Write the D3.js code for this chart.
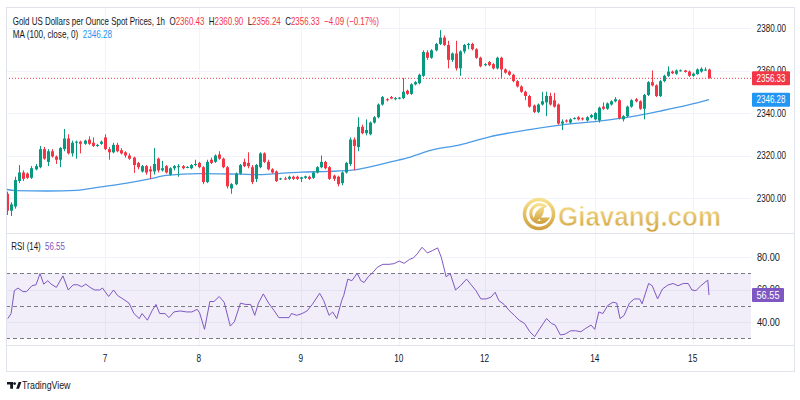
<!DOCTYPE html>
<html>
<head>
<meta charset="utf-8">
<script src="https://cdn.jsdelivr.net/npm/d3@7/dist/d3.min.js"></script>
<style>
  body { margin: 0; background: #fff; }
  svg { display: block; }
  text { font-family: "Liberation Sans", Arial, sans-serif; }
</style>
</head>
<body>
<svg id="chart" width="800" height="400"></svg>
<script>
// ---- data ----
const dayTicks = [24, 47, 72, 96, 117, 144, 168];
const dayLabels = ["7", "8", "9", "10", "12", "14", "15"];
const priceTicks = [2300, 2320, 2340, 2360, 2380];
const rsiTicks = [40, 60, 80];
const rsiBands = [70, 50, 30];

// hourly candles [open, high, low, close]
const ohlc = [
  [2302,2303,2292,2294],[2294,2298,2291.5,2297],[2296,2310,2295,2308.5],[2308,2315.5,2307,2312],
  [2312,2313,2308,2309],[2311.5,2312,2309,2309.5],[2309.5,2315,2309,2314],[2313.5,2316,2313,2315],
  [2314.5,2324.5,2314,2323],[2323,2324,2318,2318.5],[2317,2323,2315,2322],[2322,2323,2319,2319.5],
  [2319.5,2320,2316,2318],[2318,2324,2314.5,2323.5],[2323,2332.5,2322,2328],[2328,2330,2320.5,2321],
  [2321,2327,2319.5,2326],[2326,2327,2318.5,2326.5],[2326.5,2327,2321,2325.5],[2325.5,2327.5,2325,2327],
  [2327.5,2329,2325,2325.5],[2326,2328.5,2324,2324.5],[2324.5,2325.5,2324,2325],[2325.5,2327,2325,2326.5],
  [2328.5,2330,2322.5,2323],[2323,2324,2318,2321.5],[2321.5,2326,2321,2325],[2325,2326,2321.5,2322],
  [2322.5,2323.5,2320.5,2321],[2321.5,2322,2319,2320],[2320,2321,2318,2318.5],[2319,2319.5,2311.8,2315.5],
  [2316.5,2317,2313.5,2314.5],[2312.5,2315.5,2312,2315],[2315,2315.5,2311,2312],[2313.5,2315,2309,2312.5],
  [2312.5,2323.5,2311,2316],[2318.5,2319,2312,2313],[2313,2317.5,2312.5,2314],[2315,2315.5,2311.5,2312],
  [2311,2314.5,2310.5,2314],[2314,2315.5,2313,2315],[2314.5,2316,2310,2315],[2315,2315.5,2313.5,2314],
  [2314.5,2315,2314,2314.6],[2314,2316,2313.5,2315.5],[2315.5,2318,2315,2316],[2316.5,2317,2314,2314.5],
  [2314.5,2315,2306.5,2307.5],[2307.5,2318,2307,2317],[2318,2319,2316,2316.5],[2317,2320.5,2316.5,2320],
  [2320.5,2322,2318,2318.5],[2318.5,2319,2314,2314.5],[2314.5,2315,2304.5,2305.5],[2304.5,2307,2302,2306.5],
  [2306.5,2312,2306,2311.5],[2311.5,2316,2311,2315.5],[2317,2318.5,2314.5,2315],[2316.5,2321.5,2314,2315],
  [2314.5,2315.5,2306.5,2307.5],[2309,2316,2307.5,2315.5],[2314.5,2321.5,2314,2321],[2321,2321.5,2316.5,2317],
  [2317,2318,2313,2313.5],[2313.5,2314,2311.5,2312],[2312.5,2313,2307.5,2308],[2309,2309.5,2308.5,2309.2],
  [2309.2,2310,2308.5,2309],[2309,2310.5,2308.5,2310],[2310,2310.5,2308.5,2309],[2310,2310.5,2308.5,2309],
  [2309,2310,2307.5,2309.7],[2309.5,2310.5,2309,2310.2],[2310,2310.5,2308.5,2309],[2309.5,2312.5,2309,2312],
  [2312,2315,2311.5,2314.5],[2314.5,2320,2314,2317],[2317,2317.5,2313.5,2314],[2314.5,2315,2308.5,2309],
  [2310.5,2311,2308,2309],[2310,2310.5,2305.5,2306.5],[2307,2312.5,2306,2312],[2312,2317,2311.5,2316.5],
  [2316,2328.5,2315,2327.5],[2327.5,2328.5,2313,2324.5],[2324,2338,2322,2333.5],[2333.5,2334.5,2330,2330.5],
  [2330.5,2337,2329.5,2332],[2330,2336,2329.5,2335.5],[2335.5,2338.5,2335,2338],[2338,2344.5,2337.5,2344],
  [2344,2348,2343.5,2347.5],[2346.5,2347,2345.5,2346],[2347.5,2348,2346.5,2346.8],[2346.5,2347.5,2346,2347],
  [2347,2347.5,2346.5,2347.2],[2347,2356.5,2346.5,2350],[2350.5,2351,2348.5,2349],[2349,2354,2348.5,2353.5],
  [2353.5,2355,2353,2354.5],[2354,2358.5,2353.5,2358],[2357.5,2369.5,2357,2368.7],[2368.5,2369.5,2365,2366],
  [2366,2370,2365.5,2369.5],[2369.5,2373,2369,2372.5],[2372.5,2379,2372,2375.5],[2375.5,2376.5,2371.5,2372],
  [2372,2374,2361,2365],[2365,2368.5,2364,2368],[2368,2374,2360,2361],[2361,2369.5,2357.5,2369],
  [2369,2372.5,2368,2372],[2372,2373,2370,2372.5],[2372.5,2373,2369.5,2370],[2370,2370.5,2365.5,2366],
  [2366,2366.5,2361.5,2362],[2362.5,2363.5,2362,2363],[2364,2364.5,2362,2362.5],[2363,2363.5,2360.5,2361],
  [2361,2366.5,2360.5,2366],[2366,2366.5,2356.5,2360.5],[2360.5,2361,2358.5,2359],[2359.5,2360,2357.5,2358],
  [2358,2358.5,2354.5,2355],[2355,2355.5,2352,2352.5],[2352.5,2353,2349.5,2350],[2350,2350.5,2346,2348],
  [2348,2348.5,2342.5,2343],[2343.5,2344,2340,2340.5],[2340.5,2344.5,2340,2344],[2344,2350,2343.5,2345.5],
  [2345,2350,2338.5,2348],[2348,2349.5,2343.5,2344],[2346,2349.5,2342.5,2343],[2344,2344.5,2334.5,2335],
  [2335,2337,2332,2336],[2336.5,2337,2335.5,2336],[2335.5,2337.5,2335,2337],[2337.4,2338,2337,2337.6],
  [2338,2338.5,2336.5,2337],[2337.5,2338,2336.5,2337],[2336.5,2338.5,2336,2338],[2338,2339.5,2337.5,2339],
  [2337,2340.5,2336.5,2340],[2336.5,2343,2335.5,2342.5],[2343,2345,2341.5,2342],[2342,2345,2341.5,2344.5],
  [2344,2346,2343.5,2345.5],[2345.5,2347.5,2345,2346.5],[2346,2346.5,2337,2337.5],[2337,2339,2336,2338.5],
  [2338.5,2343.5,2338,2343],[2343,2346.5,2342.5,2346],[2346.5,2347,2345,2345.5],[2345.5,2346,2341.5,2342],
  [2342,2349,2337,2348.5],[2348.5,2355,2348,2354.5],[2354.5,2360,2352.5,2353],[2353,2353.5,2347.5,2348],
  [2348,2355.5,2347.5,2355],[2355,2358,2354.5,2357.5],[2357.5,2362,2357,2359.5],[2359.5,2360,2358.3,2358.7],
  [2358.5,2360.5,2358,2360],[2360,2360.5,2359.5,2360.1],[2360,2360.3,2359,2359.3],[2359.5,2360,2357,2357.5],
  [2357.5,2359,2357,2358.5],[2358.3,2361,2358,2360.5],[2359.5,2361.5,2359,2360.8],[2360,2361.5,2359.8,2360.43],
  [2360.43,2360.90,2356.24,2356.33]
];

// MA(100) read at some bars
const maBar = [0,2,10,17,23,29,35,39,47,57,62,67,72,79,85,89,94,99,104,111,118,128,136,145,153,160,167,172];
const maVal = [2304.0,2303.5,2303.3,2303.6,2305.2,2306.9,2309.0,2310.6,2311.5,2311.2,2311.0,2311.6,2312.2,2312.5,
  2313.2,2314.7,2317.0,2319.4,2322.5,2325.0,2328.7,2332.2,2334.4,2336.2,2338.3,2340.9,2343.8,2346.28];

// RSI(14) trace
const rsiBar = [0.2,1.0,1.8,2.7,3.9,4.8,6.1,7.1,8.1,9.0,10.0,10.8,12.1,13.7,15.0,16.2,17.3,18.3,19.3,20.6,
  21.5,22.7,23.4,24.9,26.1,27.1,28.4,29.9,31.1,32.4,33.1,34.4,35.6,36.5,37.4,38.7,39.7,40.9,42.4,44.0,
  45.3,46.6,47.2,48.4,49.7,50.7,52.0,53.2,54.7,55.7,57.2,58.5,59.7,60.7,61.6,62.8,64.1,65.4,66.6,67.9,
  69.1,69.7,71.0,72.3,73.5,74.8,76.6,77.6,78.9,79.8,80.8,82.0,82.5,83.5,84.5,85.8,86.7,87.5,88.5,89.6,
  90.8,92.1,93.6,94.8,96.1,97.3,98.6,99.6,100.5,101.7,103.0,104.2,105.5,106.4,107.6,108.6,109.9,111.1,112.6,113.6,
  114.9,116.1,117.4,118.6,119.6,120.5,121.8,123.0,124.3,125.5,126.8,128.1,129.3,130.6,132.2,133.4,134.3,135.6,136.8,138.1,
  139.3,140.6,141.8,143.1,144.0,145.0,146.0,147.2,148.5,149.4,150.2,151.2,152.5,153.7,155.0,155.6,157.2,158.1,159.4,160.6,
  161.9,163.2,164.4,165.7,166.9,167.8,168.8,170.0,171.7,172];
const rsiVal = [42.1,45.2,59.3,60.9,58.7,58.7,62.3,62.9,69.8,63.3,65.4,63.3,61.3,68.4,59.7,62.9,62.9,61.7,63.3,60.9,
  59.7,59.7,60.9,55.7,59.7,56.3,54.2,51.6,45.2,42.1,45.2,41.1,47.2,50.8,45.2,45.2,42.7,46.2,46.8,46.2,
  46.2,47.8,45.6,35.5,52.6,52.6,55.7,52.2,37.5,40.1,51.6,50.8,50.8,44.1,51.6,57.3,51.6,47.2,42.7,42.7,
  42.7,45.2,44.1,45.2,46.8,50.8,57.7,53.2,44.1,46.2,42.1,53.2,56.3,66.4,65.4,70.0,65.4,64.3,67.8,70.4,
  73.8,75.5,75.5,75.9,77.5,76.1,78.5,79.5,81.9,86.0,82.5,83.9,85.6,79.9,67.8,69.8,59.7,62.3,66.4,63.3,
  59.3,54.2,54.2,55.3,58.3,53.2,50.8,47.2,44.1,41.1,39.1,34.0,31.0,36.1,42.1,39.1,38.1,32.0,32.6,34.6,
  34.6,34.0,36.1,38.1,35.5,46.2,45.2,50.2,52.2,51.6,42.1,44.1,51.6,54.2,54.2,51.2,63.7,62.3,54.2,60.3,
  62.7,63.7,62.3,63.7,63.7,59.7,59.3,62.3,65.8,56.55];

const lastClose = 2356.33, lastMa = 2346.28, lastRsi = 56.55;

// ---- layout ----
const UP = "#089981", DOWN = "#F23645", MA_COL = "#4b9be6", RSI_COL = "#7E57C2";
const TEXT = "#131722", GRID = "#f0f3fa", BORDER = "#e0e3eb";
const frame = { left: 6, right: 794, top: 7, bottom: 371 };
const plotRight = 751;
const rsiPane = { top: 233, bottom: 345 };

const svg = d3.select("#chart");
const x = d3.scaleLinear().domain([0, ohlc.length - 1]).range([7, 709]);
const y = d3.scaleLinear().domain([2300, 2380]).range([198, 28]);
const yr = d3.scaleLinear().domain([30, 70]).range([338.25, 273.25]);

// text squeezed horizontally to a measured width (the screenshot's font is narrow)
function label(g, px, py, parts, w, anchor) {
    if (typeof parts === "string") parts = [[parts, TEXT]];
    let holder = g.append("g");
    let t = holder.append("text").attr("font-size", 10.5).attr("xml:space", "preserve");
    if (anchor) t.attr("text-anchor", anchor);
    parts.forEach(([s, c]) => t.append("tspan").attr("fill", c).text(s));
    let natural = t.node().getComputedTextLength();
    let sx = w && natural ? w / natural : 1;
    holder.attr("transform", "translate(" + px + "," + py + ") scale(" + sx + ",1)");
    return holder;
}

// grid
let grid = svg.append("g");
grid.selectAll("line.v").data(dayTicks).enter().append("line")
    .attr("x1", d => Math.round(x(d)) + 0.5).attr("x2", d => Math.round(x(d)) + 0.5)
    .attr("y1", frame.top).attr("y2", rsiPane.bottom)
    .attr("stroke", GRID);
grid.selectAll("line.h").data(priceTicks).enter().append("line")
    .attr("x1", frame.left).attr("x2", plotRight)
    .attr("y1", d => Math.round(y(d)) + 0.5).attr("y2", d => Math.round(y(d)) + 0.5)
    .attr("stroke", GRID);
grid.selectAll("line.r").data(rsiTicks).enter().append("line")
    .attr("x1", frame.left).attr("x2", plotRight)
    .attr("y1", d => Math.round(yr(d)) + 0.5).attr("y2", d => Math.round(yr(d)) + 0.5)
    .attr("stroke", GRID);

// RSI band
svg.append("rect")
    .attr("x", frame.left).attr("width", plotRight - frame.left)
    .attr("y", yr(70)).attr("height", yr(30) - yr(70))
    .attr("fill", RSI_COL).attr("fill-opacity", 0.1);
svg.selectAll("line.band").data(rsiBands).enter().append("line")
    .attr("x1", frame.left).attr("x2", plotRight)
    .attr("y1", d => Math.round(yr(d)) + 0.5).attr("y2", d => Math.round(yr(d)) + 0.5)
    .attr("stroke", "#787B86").attr("stroke-dasharray", "4,3");

// watermark
let wm = svg.append("g").attr("opacity", 0.85);
let grad = svg.append("defs").append("linearGradient").attr("id", "gold")
    .attr("x1", 0).attr("y1", 0).attr("x2", 0).attr("y2", 1);
grad.append("stop").attr("offset", "0%").attr("stop-color", "#f6dc7a");
grad.append("stop").attr("offset", "100%").attr("stop-color", "#c8911e");
wm.append("circle").attr("cx", 539).attr("cy", 214).attr("r", 14.5)
    .attr("fill", "none").attr("stroke", "url(#gold)").attr("stroke-width", 3.5);
wm.append("path").attr("d", "M546,207 A9,9 0 1 0 547,219 L540,219")
    .attr("fill", "none").attr("stroke", "url(#gold)").attr("stroke-width", 3);
wm.append("path").attr("d", "M534,222 Q533,210 544,206 Q545,218 534,222 Z").attr("fill", "url(#gold)");
wm.append("text").attr("x", 558).attr("y", 226).attr("font-size", 27).attr("font-weight", "bold")
    .attr("fill", "url(#gold)").attr("stroke", "#fff").attr("stroke-width", 0.6)
    .attr("textLength", 163).attr("lengthAdjust", "spacingAndGlyphs")
    .text("Giavang.com");

// MA line
let maPts = maBar.map((b, k) => [b, maVal[k]]);
svg.append("path").datum(maPts)
    .attr("d", d3.line().x(d => x(d[0])).y(d => y(d[1])).curve(d3.curveMonotoneX))
    .attr("fill", "none").attr("stroke", MA_COL).attr("stroke-width", 1.3);

// price line
svg.append("line")
    .attr("x1", frame.left).attr("x2", plotRight)
    .attr("y1", y(lastClose)).attr("y2", y(lastClose))
    .attr("stroke", DOWN).attr("stroke-dasharray", "1,2").attr("stroke-width", 1);

// candles
let candles = svg.append("g").selectAll("g").data(ohlc).enter().append("g");
candles.append("line")
    .attr("x1", (d, i) => Math.round(x(i)) + 0.5).attr("x2", (d, i) => Math.round(x(i)) + 0.5)
    .attr("y1", d => y(d[1])).attr("y2", d => y(d[2]))
    .attr("stroke", d => d[3] >= d[0] ? UP : DOWN).attr("stroke-width", 1);
candles.append("rect")
    .attr("x", (d, i) => Math.round(x(i)) - 1)
    .attr("width", 3)
    .attr("y", d => y(Math.max(d[0], d[3])))
    .attr("height", d => Math.max(1, Math.abs(y(d[0]) - y(d[3]))))
    .attr("fill", d => d[3] >= d[0] ? UP : DOWN);

// RSI line
let rsiPts = rsiBar.map((b, k) => [b, rsiVal[k]]);
svg.append("path").datum(rsiPts)
    .attr("d", d3.line().x(d => x(d[0])).y(d => yr(d[1])))
    .attr("fill", "none").attr("stroke", RSI_COL).attr("stroke-width", 1);

// frame and separators
let fr = svg.append("g").attr("fill", "none").attr("stroke", BORDER);
fr.append("rect").attr("x", frame.left + 0.5).attr("y", frame.top + 0.5)
    .attr("width", frame.right - frame.left).attr("height", frame.bottom - frame.top);
fr.append("line").attr("x1", frame.left).attr("x2", frame.right).attr("y1", 233.5).attr("y2", 233.5);
fr.append("line").attr("x1", frame.left).attr("x2", frame.right).attr("y1", 345.5).attr("y2", 345.5);

// axes labels
let ax = svg.append("g");
priceTicks.forEach(p => label(ax, 756.7, y(p) + 3.8, p.toFixed(2), 29.3));
rsiTicks.forEach(r => label(ax, 757, yr(r) + 3.8, r.toFixed(2), 23));
dayTicks.forEach((b, k) => {
    let s = dayLabels[k];
    label(ax, x(b), 362, s, s.length * 4.6, "middle");
});

// last-value boxes
function valueBox(py, s, col, w) {
    svg.append("rect").attr("x", 752).attr("y", py - 7).attr("width", w).attr("height", 14)
        .attr("fill", col).attr("rx", 1);
    label(svg, 752 + w / 2, py + 3.8, [[s, "#fff"]], w - 9, "middle");
}
valueBox(y(lastClose), lastClose.toFixed(2), DOWN, 38);
valueBox(y(lastMa), lastMa.toFixed(2), "#2196F3", 38);
valueBox(yr(lastRsi), lastRsi.toFixed(2), RSI_COL, 32);

// legends
let lg = svg.append("g");
let last = ohlc[ohlc.length - 1];
label(lg, 12.7, 25, [
    ["Gold US Dollars per Ounce Spot Prices, 1h  ", TEXT],
    ["O", TEXT], [last[0].toFixed(2) + "  ", DOWN],
    ["H", TEXT], [last[1].toFixed(2) + "  ", DOWN],
    ["L", TEXT], [last[2].toFixed(2) + "  ", DOWN],
    ["C", TEXT], [last[3].toFixed(2) + "  ", DOWN],
    ["\u22124.09 (\u22120.17%)", DOWN]
], 367);
label(lg, 12.7, 37.5, [["MA (100, close, 0)  ", TEXT], [lastMa.toFixed(2), "#2196F3"]], 99.6);
label(lg, 11.3, 249.5, [["RSI (14)  ", TEXT], [lastRsi.toFixed(2), RSI_COL]], 53.7);

// TradingView logo
let tv = svg.append("g").attr("fill", TEXT);
tv.append("path").attr("d", "M7,382 h6 v6.8 h-2.8 v-4.2 h-3.2 Z");
tv.append("circle").attr("cx", 14.6).attr("cy", 383.6).attr("r", 1.4);
tv.append("path").attr("d", "M16.2,388.8 L18.6,382 L21.4,382 L19,388.8 Z");
label(tv, 22, 388.8, "TradingView", 48.5);
</script>
</body>
</html>
